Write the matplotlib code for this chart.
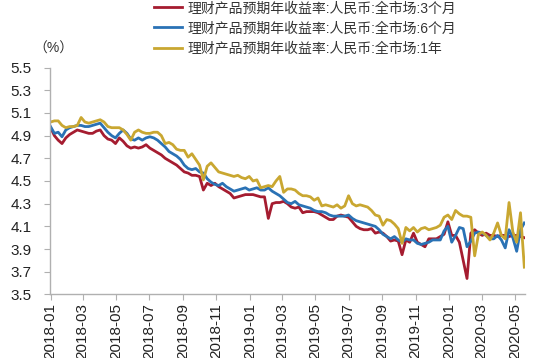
import matplotlib
matplotlib.use("Agg")
import matplotlib.pyplot as plt
import matplotlib.dates as mdates
import pandas as pd
import numpy as np

plt.rcParams['font.family'] = ['Liberation Sans', 'Noto Sans CJK SC', 'DejaVu Sans']

# weekly observations
dates = pd.date_range('2018-01-01', periods=125, freq='7D')

# 理财产品预期年收益率:人民币:全市场:3个月
m3 = [4.97, 4.90, 4.86, 4.83, 4.88, 4.91, 4.93, 4.95, 4.94, 4.93,
      4.92, 4.92, 4.94, 4.95, 4.90, 4.87, 4.86, 4.83, 4.88, 4.85,
      4.81, 4.79, 4.80, 4.79, 4.80, 4.82, 4.79, 4.77, 4.75, 4.73,
      4.70, 4.68, 4.66, 4.64, 4.61, 4.58, 4.57, 4.55, 4.55, 4.54,
      4.42, 4.48, 4.46, 4.48, 4.45, 4.43, 4.41, 4.39, 4.35, 4.36,
      4.37, 4.38, 4.38, 4.38, 4.37, 4.36, 4.36, 4.17, 4.30, 4.31,
      4.31, 4.32, 4.30, 4.27, 4.26, 4.27, 4.22, 4.23, 4.23, 4.23,
      4.22, 4.20, 4.18, 4.16, 4.16, 4.19, 4.20, 4.19, 4.18, 4.14,
      4.10, 4.08, 4.07, 4.07, 4.08, 4.04, 4.05, 4.04, 4.01, 3.97,
      3.98, 3.97, 3.85, 3.98, 3.96, 4.04, 3.96, 3.94, 3.92, 3.99,
      3.99, 3.99, 4.01, 4.03, 4.14, 4.02, 4.02, 3.96, 3.80, 3.64,
      4.04, 4.07, 4.04, 4.02, 4.04, 4.02, 4.02, 4.01, 4.02, 4.02,
      4.01, 4.02, 4.02, 4.01, 4.00]

# 理财产品预期年收益率:人民币:全市场:6个月
m6 = [4.98, 4.92, 4.93, 4.89, 4.95, 4.97, 4.98, 4.99, 4.99, 4.98,
      4.98, 4.99, 5.00, 5.01, 4.97, 4.93, 4.90, 4.88, 4.92, 4.95,
      4.92, 4.87, 4.86, 4.88, 4.86, 4.88, 4.89, 4.88, 4.86, 4.83,
      4.80, 4.76, 4.74, 4.72, 4.69, 4.64, 4.61, 4.60, 4.61, 4.58,
      4.57, 4.52, 4.49, 4.47, 4.46, 4.48, 4.45, 4.43, 4.41, 4.42,
      4.43, 4.44, 4.42, 4.43, 4.44, 4.42, 4.42, 4.44, 4.41, 4.39,
      4.37, 4.34, 4.31, 4.30, 4.32, 4.29, 4.28, 4.27, 4.26, 4.24,
      4.23, 4.23, 4.22, 4.20, 4.19, 4.19, 4.19, 4.19, 4.20, 4.17,
      4.15, 4.14, 4.13, 4.12, 4.11, 4.10, 4.07, 4.03, 4.01, 3.99,
      4.01, 3.98, 3.96, 3.99, 3.98, 3.98, 3.95, 3.94, 3.95, 3.96,
      3.98, 3.98, 3.98, 4.06, 4.10, 3.96, 4.02, 4.09, 4.08, 3.92,
      3.97, 4.04, 4.05, 4.04, 4.02, 3.99, 3.99, 4.02, 3.98, 3.91,
      4.07, 4.00, 3.88, 4.07, 4.13]

# 理财产品预期年收益率:人民币:全市场:1年
y1 = [5.02, 5.03, 5.03, 4.99, 4.97, 4.98, 4.98, 4.99, 5.06, 5.02,
      5.01, 5.02, 5.03, 5.04, 5.02, 4.98, 4.97, 4.97, 4.97, 4.95,
      4.91, 4.86, 4.93, 4.95, 4.93, 4.92, 4.92, 4.93, 4.93, 4.90,
      4.83, 4.84, 4.82, 4.78, 4.77, 4.77, 4.71, 4.74, 4.69, 4.64,
      4.51, 4.63, 4.66, 4.62, 4.58, 4.57, 4.56, 4.55, 4.54, 4.55,
      4.53, 4.52, 4.54, 4.50, 4.51, 4.44, 4.45, 4.46, 4.45, 4.50,
      4.54, 4.40, 4.43, 4.43, 4.42, 4.39, 4.37, 4.37, 4.36, 4.33,
      4.35, 4.28, 4.29, 4.28, 4.27, 4.29, 4.26, 4.28, 4.37, 4.30,
      4.28, 4.29, 4.28, 4.27, 4.24, 4.20, 4.19, 4.11, 4.16, 4.15,
      4.12, 4.08, 3.95, 4.09, 4.06, 4.09, 4.05, 4.08, 4.09, 4.07,
      4.08, 4.09, 4.11, 4.18, 4.20, 4.16, 4.24, 4.21, 4.19, 4.19,
      4.18, 3.84, 4.03, 4.05, 4.02, 3.98, 4.04, 4.13, 4.02, 3.99,
      4.31, 4.05, 3.96, 4.22, 3.74]

labels = ['理财产品预期年收益率:人民币:全市场:3个月',
          '理财产品预期年收益率:人民币:全市场:6个月',
          '理财产品预期年收益率:人民币:全市场:1年']
colors = ['#a51c30', '#2a72b5', '#c9a731']
yticks = np.arange(3.5, 5.51, 0.2)

fig = plt.figure(figsize=(5.5, 3.58), dpi=100)
ax = fig.add_axes([0.0909, 0.1777, 0.8644, 0.6335])

lines = []
for vals, lab, c in zip([m3, m6, y1], labels, colors):
    ln, = ax.plot(dates, vals, color=c, lw=2.0, label=lab, solid_joinstyle='round')
    lines.append(ln)

ax.set_ylim(3.5, 5.5)
ax.set_yticks(yticks)
ax.set_yticklabels([f'{v:.1f}' for v in yticks])
ax.set_xlim(pd.Timestamp('2017-12-31'), pd.Timestamp('2020-05-20'))
ax.xaxis.set_major_locator(mdates.MonthLocator(bymonth=[1, 3, 5, 7, 9, 11]))
ax.xaxis.set_major_formatter(mdates.DateFormatter('%Y-%m'))

for s in ['top', 'right']:
    ax.spines[s].set_visible(False)
for s in ['left', 'bottom']:
    ax.spines[s].set_color('#b0b0b0')
    ax.spines[s].set_linewidth(1.0)

ax.tick_params(axis='y', length=4, width=0.8, color='#b0b0b0', pad=9,
               labelsize=11, labelcolor='#222222')
ax.tick_params(axis='x', length=4, width=0.8, color='#b0b0b0', pad=2,
               labelsize=11, labelcolor='#222222', labelrotation=90)

fig.legend(handles=lines, loc='upper left', bbox_to_anchor=(0.258, 1.032),
           frameon=False, fontsize=10, handlelength=2.0, handletextpad=0.35,
           labelspacing=0.45, labelcolor='#333333')

fig.text(53 / 550, 1 - 49 / 358, '（%）', ha='center', va='center',
         fontsize=10, color='#333333')

fig.savefig('out.png', dpi=100)
